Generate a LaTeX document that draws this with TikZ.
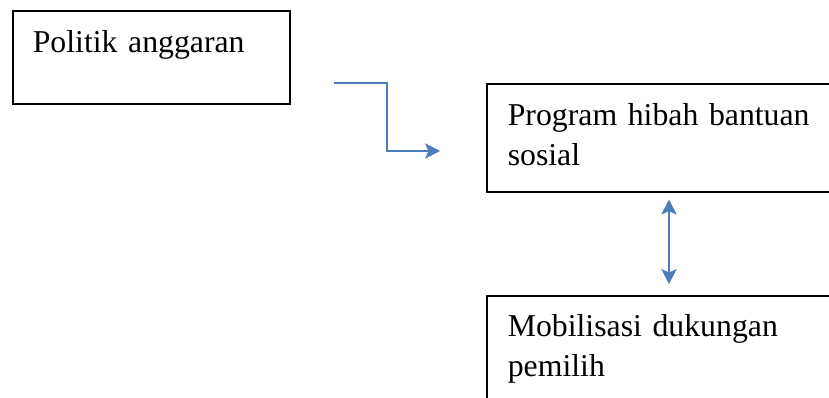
\documentclass[tikz,border=0pt]{standalone}
\usepackage{fontspec}
\setmainfont{Liberation Serif}
\usepackage{tikz}
\usetikzlibrary{arrows.meta, positioning, calc}
\definecolor{wordblue}{HTML}{4A7EBB}
\tikzset{
  whitebox/.style={rectangle, draw=black, line width=1.1pt, anchor=north west,
    align=left, inner ysep=0pt, inner xsep=0.5cm,
    font=\fontsize{22.6}{28.1}\selectfont},
  bluearrow/.style={draw=wordblue, line width=1.4pt,
    -{Stealth[length=0.37cm, width=0.38cm, inset=0.08cm]}},
  bluedouble/.style={draw=wordblue, line width=1.4pt,
    {Stealth[length=0.37cm, width=0.38cm, inset=0.08cm]}-{Stealth[length=0.37cm, width=0.38cm, inset=0.08cm]}}
}

\begin{document}
\begin{tikzpicture}[x=0.025cm, y=-0.025cm]
    \useasboundingbox (0,0) rectangle (829,398);
    \clip (0,0) rectangle (829,398);
    \node[whitebox, text width=5.925cm, text height=1.05cm, text depth=1.275cm]
      (politik) at (12,10) {Politik anggaran};
    \node[whitebox, inner xsep=0.525cm, text width=8.55cm, text height=1.05cm,
      text depth=1.65cm] (program) at (486,83)
      {Program hibah bantuan\\sosial};
    \node[whitebox, inner xsep=0.525cm, text width=8.55cm, text height=1.025cm,
      text depth=2.1cm] (mobilisasi) at (486,295)
      {Mobilisasi dukungan\\pemilih};
    \coordinate (elbowstart) at (334,83);
    \coordinate (elbowend) at (440,151);
    \draw[bluearrow] (elbowstart) -- ++(53,0) |- (elbowend);
    \draw[bluedouble, shorten <=0.175cm, shorten >=0.275cm]
      ($(program.south west)+(183,0)$) -- ($(mobilisasi.north west)+(183,0)$);
\end{tikzpicture}
\end{document}
